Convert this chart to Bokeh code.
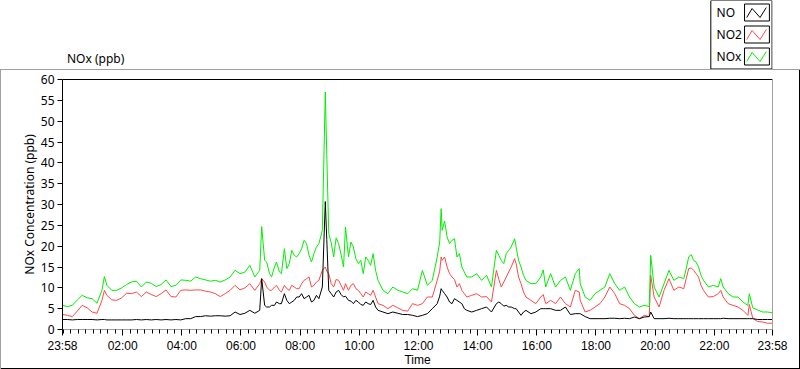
from bokeh.plotting import figure
from bokeh.layouts import column
from bokeh.models import Range1d, FixedTicker, LinearAxis
from bokeh.core.properties import value
from bokeh.embed import file_html
from bokeh.resources import INLINE

# minutes elapsed since 23:58 (start of record)
minutes = [0, 10, 20, 30, 40, 50, 60, 70, 80, 85, 90, 100, 110, 120, 130, 140, 150, 160, 170, 180,
           190, 200, 210, 220, 230, 240, 250, 260, 270, 280, 290, 300, 310, 320, 330, 340, 350, 360,
           370, 380, 390, 400, 404, 410, 420, 430, 440, 450, 460, 470, 480, 490, 500, 510, 520, 527,
           533, 536, 540, 550, 560, 570, 574, 580, 590, 600, 610, 620, 630, 640, 650, 660, 670, 680,
           690, 700, 710, 720, 730, 740, 750, 760, 768, 770, 780, 790, 800, 810, 820, 830, 840, 850,
           860, 870, 880, 890, 900, 910, 917, 920, 930, 940, 950, 960, 970, 975, 980, 990, 1000, 1010,
           1020, 1030, 1040, 1048, 1050, 1060, 1070, 1080, 1090, 1100, 1110, 1120, 1130, 1140, 1150,
           1160, 1170, 1180, 1190, 1193, 1200, 1210, 1220, 1230, 1240, 1250, 1260, 1270, 1275, 1280,
           1290, 1300, 1310, 1320, 1330, 1335, 1340, 1350, 1360, 1370, 1380, 1390, 1393, 1400, 1410,
           1420, 1430, 1440]

no = [2.4, 2.4, 2.3, 2.4, 2.4, 2.4, 2.4, 2.3, 2.4, 2.4, 2.3, 2.3, 2.3, 2.3, 2.3, 2.3, 2.4, 2.3, 2.4, 2.3,
      2.4, 2.3, 2.4, 2.3, 2.4, 2.3, 2.6, 2.6, 3.1, 3.1, 3.3, 3.2, 3.3, 3.3, 3.2, 3.3, 4.2, 3.6,
      3.9, 4.6, 3.9, 4.6, 12.2, 5.8, 5.4, 5.8, 6.2, 8.6, 6.2, 7.0, 7.8, 7.4, 8.2, 7.0, 7.4, 10.2,
      30.7, 21.6, 9.4, 7.8, 9.4, 7.8, 8.0, 7.0, 6.2, 6.6, 5.8, 6.2, 7.0, 4.6, 4.2, 3.8, 4.2, 3.9,
      3.6, 3.6, 3.4, 3.1, 3.4, 3.8, 5.0, 6.2, 9.8, 9.4, 7.8, 6.2, 7.0, 6.2, 4.6, 4.2, 4.6, 5.0,
      5.4, 4.2, 6.2, 6.2, 5.8, 5.4, 5.0, 5.0, 3.4, 4.6, 3.8, 4.2, 5.0, 5.0, 5.0, 5.0, 4.6, 4.6,
      5.4, 3.6, 3.8, 3.8, 3.8, 3.1, 2.6, 2.6, 2.6, 2.6, 2.7, 2.7, 2.6, 2.7, 2.6,
      3.0, 2.6, 3.0, 3.1, 4.2, 2.6, 2.6, 2.6, 2.7, 2.6, 2.6, 2.6, 2.6, 2.6, 2.6,
      2.6, 2.6, 2.6, 2.6, 2.6, 2.6, 2.7, 2.6, 2.6, 2.6, 2.6, 2.6, 2.6, 2.6, 2.4,
      2.4, 2.4, 2.4]

no2 = [3.6, 3.4, 3.1, 4.4, 5.8, 5.2, 4.2, 3.9, 7.0, 9.4, 8.2, 7.1, 7.0, 7.6, 8.7, 8.6, 9.0, 7.9, 9.0, 8.4,
       7.9, 8.6, 9.5, 7.9, 7.8, 9.4, 9.5, 9.4, 9.5, 9.5, 9.2, 9.0, 8.6, 7.9, 8.6, 9.4, 10.6, 9.5,
       10.0, 11.0, 9.4, 11.0, 12.2, 11.4, 9.4, 10.2, 9.4, 10.6, 9.4, 10.2, 9.8, 11.8, 12.6, 10.6, 11.8, 14.2,
       15.0, 14.0, 13.4, 10.2, 11.8, 9.4, 11.0, 9.4, 11.0, 9.4, 7.8, 8.6, 9.4, 6.2, 5.8, 5.0, 5.8, 5.2,
       4.6, 4.4, 6.2, 5.8, 6.2, 7.8, 7.8, 11.8, 17.4, 16.6, 15.0, 12.6, 10.2, 9.4, 7.8, 8.2, 8.6, 7.8,
       7.9, 6.6, 14.2, 10.2, 12.6, 15.0, 17.0, 15.8, 11.0, 7.8, 7.0, 6.2, 7.8, 8.4, 6.2, 7.0, 6.2, 7.8,
       6.2, 5.4, 9.4, 9.0, 7.0, 4.2, 4.6, 5.4, 6.2, 7.8, 10.2, 8.6, 6.2, 5.8, 5.0,
       3.4, 2.6, 3.4, 3.1, 13.0, 7.8, 5.4, 9.4, 12.2, 9.4, 10.2, 9.8, 14.6, 14.8, 14.2,
       12.6, 9.4, 7.8, 7.9, 8.6, 9.4, 7.8, 6.2, 5.8, 5.4, 4.6, 3.4, 6.0, 2.7, 1.9,
       1.8, 1.5, 1.5]

nox = [5.8, 5.5, 5.8, 7.1, 8.2, 7.6, 7.4, 6.3, 9.4, 12.7, 10.6, 9.4, 9.4, 10.0, 10.8, 11.4, 11.6, 10.2, 11.4, 11.1,
       10.3, 10.8, 11.9, 10.3, 10.6, 11.9, 11.8, 11.6, 12.6, 12.2, 11.9, 11.6, 11.8, 11.4, 11.9, 12.6, 14.2, 13.4,
       13.8, 15.4, 12.6, 14.2, 24.7, 16.6, 13.4, 15.0, 13.8, 19.4, 15.8, 17.8, 18.2, 21.4, 17.8, 18.2, 20.6, 23.8,
       57.0, 42.0, 23.0, 17.4, 20.6, 15.0, 24.6, 17.4, 19.8, 15.8, 13.4, 16.6, 18.2, 11.8, 9.4, 8.6, 10.2, 9.4,
       9.0, 8.6, 9.8, 9.4, 14.2, 10.6, 11.8, 17.4, 29.0, 23.8, 22.2, 21.4, 17.4, 15.0, 12.6, 12.6, 13.4, 11.8,
       13.0, 10.2, 19.0, 16.6, 18.2, 19.8, 21.8, 19.8, 15.0, 11.8, 11.0, 11.0, 12.6, 14.3, 10.2, 13.4, 10.2, 11.8,
       12.6, 9.4, 13.4, 14.6, 11.0, 7.8, 7.0, 8.6, 9.4, 10.2, 13.4, 11.0, 9.4, 10.2, 7.8,
       6.2, 5.4, 5.8, 5.5, 17.8, 10.2, 7.8, 11.0, 14.2, 11.8, 12.6, 12.2, 17.4, 18.0, 16.6,
       15.0, 11.8, 10.2, 10.6, 10.2, 12.2, 10.2, 8.6, 7.8, 7.8, 6.6, 5.8, 8.6, 5.2, 4.7,
       4.2, 4.2, 4.0]

# additional readings in the busy stretches (same columns)
minutes_extra = [414, 424, 434, 444, 455, 465, 475, 485, 495, 505, 515, 545, 555, 565, 585, 595,
                 605, 615, 625, 635, 765, 775, 785, 795, 805, 815, 885, 895, 905, 925, 935,
                 1265, 1285, 1295]
no_extra = [5.4, 5.8, 6.6, 6.2, 7.0, 6.6, 7.8, 8.6, 7.8, 6.6, 8.2, 8.6, 9.0, 8.4, 6.8, 7.0,
            6.0, 6.6, 6.0, 5.4, 8.0, 8.6, 6.6, 7.4, 6.6, 5.0, 6.6, 5.6, 5.4, 4.2, 4.2,
            2.6, 2.6, 2.6]
no2_extra = [10.2, 9.4, 10.6, 9.0, 9.8, 10.6, 9.8, 11.0, 12.2, 10.2, 11.4, 11.0, 12.0, 10.6, 10.6, 9.8,
             8.6, 9.0, 8.2, 7.8, 14.0, 17.4, 13.4, 12.0, 11.0, 8.6, 12.0, 11.4, 13.8, 12.6, 9.0,
             12.2, 13.4, 10.6]
nox_extra = [16.2, 12.6, 16.2, 13.4, 14.6, 19.0, 17.4, 19.4, 20.6, 16.2, 19.8, 20.8, 22.0, 18.0, 21.0, 17.0,
             16.6, 17.4, 15.4, 14.2, 21.0, 26.0, 20.6, 21.8, 18.2, 13.8, 17.8, 15.8, 19.0, 16.6, 13.0,
             14.6, 16.2, 13.0]

tick_labels = ["23:58", "02:00", "04:00", "06:00", "08:00", "10:00", "12:00",
               "14:00", "16:00", "18:00", "20:00", "22:00", "23:58"]
series_names = ["NO", "NO2", "NOx"]
series_colors = ["#000000", "#ff4848", "#00ee00"]

FONT = "Noto Sans"
XFONT = "Liberation Sans"
GRAY = "#a0a0a0"
START = 23 * 60 + 58

# merge the two sets of readings in time order
rows = sorted(zip(minutes + minutes_extra, no + no_extra, no2 + no2_extra, nox + nox_extra))
t_all = [r[0] for r in rows]
no_all = [r[1] for r in rows]
no2_all = [r[2] for r in rows]
nox_all = [r[3] for r in rows]


def to_elapsed(lbl, last=False):
    h, m = lbl.split(":")
    e = (int(h) * 60 + int(m) - START) % 1440
    return 1440 if (last and e == 0) else e


major = [to_elapsed(l, i == len(tick_labels) - 1) for i, l in enumerate(tick_labels)]
minor = [m for m in range(2, 1440, 15) if m not in major]

W = 800
HEAD_H = 69
MAIN_H = 369 - HEAD_H

# ---------------- header (panel caption + legend) ----------------
hd = figure(width=W, height=HEAD_H, output_backend="svg", toolbar_location=None,
            x_range=Range1d(0, W), y_range=Range1d(HEAD_H, 0),
            x_axis_type=None, y_axis_type=None, min_border=0)
hd.grid.visible = False
hd.outline_line_color = None
hd.background_fill_color = "white"
hd.border_fill_color = "white"

hd.text(x=[5], y=[58], text=["NOx (ppb)"], text_font=value(FONT), text_font_size="12px",
        text_baseline="middle", text_align="left", text_color="black")
# legend box
hd.quad(left=[730.5], right=[799.5], top=[0], bottom=[68.5], fill_color="white",
        line_color="black", line_width=1)
for i, (name, col) in enumerate(zip(series_names, series_colors)):
    cy = 12 + 22 * i
    hd.quad(left=[768.5], right=[796.5], top=[cy - 8.5], bottom=[cy + 8.5],
            fill_color="white", line_color="black", line_width=1)
    hd.line([771, 777, 786, 793], [cy + 5, cy - 4, cy + 5, cy - 5], line_color=col, line_width=1)
    hd.text(x=[737], y=[cy], text=[name], text_font=value(FONT), text_font_size="12px",
            text_baseline="middle", text_align="left", text_color="black")

# ---------------- main chart ----------------
p = figure(width=W, height=MAIN_H, output_backend="svg", toolbar_location=None,
           x_range=Range1d(0, 1440), y_range=Range1d(0, 60),
           x_axis_type=None, y_axis_type=None,
           min_border_left=62, min_border_right=28, min_border_top=10, min_border_bottom=40)
p.grid.visible = False
p.outline_line_color = None
p.background_fill_color = "white"
p.border_fill_color = None
p.styles = {"box-shadow": "inset 1px 1px 0 %s, inset -1px -1px 0 #000000" % GRAY,
            "background-color": "white"}

xax = LinearAxis(ticker=FixedTicker(ticks=major, minor_ticks=minor),
                 major_label_overrides={m: l for m, l in zip(major, tick_labels)},
                 axis_label="Time")
xax.axis_line_color = GRAY
xax.major_tick_line_color = "black"
xax.minor_tick_line_color = "black"
xax.major_tick_in = 0
xax.major_tick_out = 6
xax.minor_tick_in = 0
xax.minor_tick_out = 4
xax.major_label_standoff = 3
xax.axis_label_standoff = -3
p.add_layout(xax, "below")

yax = LinearAxis(ticker=FixedTicker(ticks=list(range(0, 61, 5)), minor_ticks=[]),
                 axis_label="NOx Concentration (ppb)")
yax.axis_line_color = "black"
yax.major_tick_line_color = "black"
yax.major_tick_in = 0
yax.major_tick_out = 5
yax.major_label_standoff = 3
yax.axis_label_standoff = 0
p.add_layout(yax, "left")

for ax, f in ((xax, XFONT), (yax, FONT)):
    ax.major_label_text_font = f
    ax.major_label_text_font_size = "12px"
    ax.major_label_text_color = "black"
    ax.axis_label_text_font = f
    ax.axis_label_text_font_size = "12px"
    ax.axis_label_text_font_style = "normal"
    ax.axis_label_text_color = "black"

# frame edges: black on top, gray on the right
for side, col in (("above", "black"), ("right", GRAY)):
    ax = LinearAxis(ticker=FixedTicker(ticks=[0], minor_ticks=[]),
                    major_label_overrides={0: ""})
    ax.axis_line_color = col
    ax.major_tick_line_color = None
    ax.minor_tick_line_color = None
    ax.major_tick_out = 0
    ax.major_label_standoff = 0
    ax.major_label_text_font_size = "1px"
    p.add_layout(ax, side)

p.line(t_all, no2_all, line_color=series_colors[1], line_width=1)
p.line(t_all, nox_all, line_color=series_colors[2], line_width=1)
p.line(t_all, no_all, line_color=series_colors[0], line_width=1)

layout = column(hd, p, spacing=0)
open("out.html", "w").write(file_html(layout, INLINE))
